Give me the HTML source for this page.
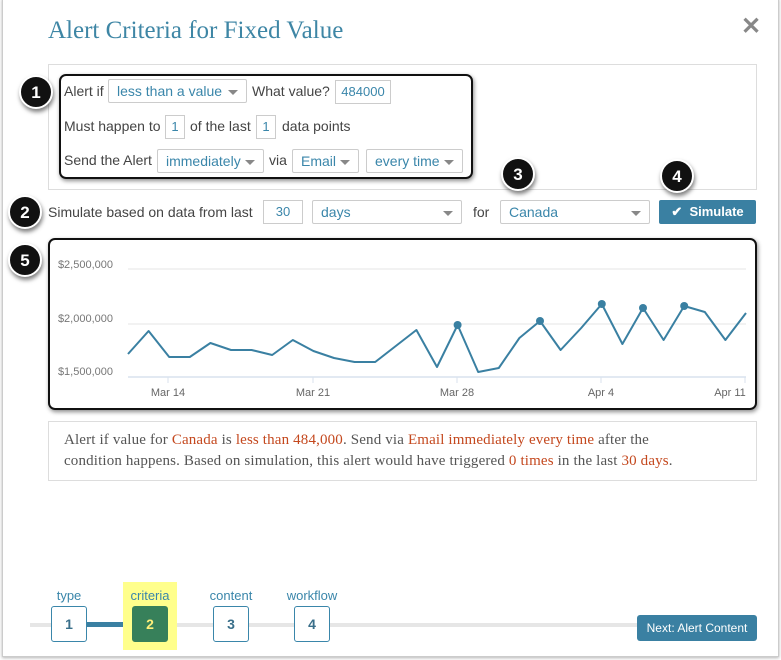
<!DOCTYPE html>
<html><head><meta charset="utf-8"><style>
*{box-sizing:border-box;margin:0;padding:0}
body{width:781px;height:660px;background:#fff;position:relative;overflow:hidden;font-family:"Liberation Sans",sans-serif;font-size:14px;color:#444}
.a{position:absolute}
.modal{left:2px;top:-2px;width:777px;height:659px;border:1px solid #ccc;box-shadow:0 1px 3px rgba(0,0,0,.3)}
.title{left:48px;top:17px;font-family:"Liberation Serif",serif;font-size:25px;color:#3e86a5}
.box{border:1px solid #ddd;background:#fff}
.ann{border:2px solid #111;border-radius:7px;box-shadow:1px 2px 4px rgba(0,0,0,.45)}
.sel{border:1px solid #ccc;border-radius:2px;color:#3a86aa;padding-left:8px;line-height:22px;height:24px;font-size:14px;background:#fff}
.sel:after{content:"";position:absolute;right:8px;top:10px;border-left:5px solid transparent;border-right:5px solid transparent;border-top:5px solid #888}
.inp{border:1px solid #ccc;color:#3a86aa;text-align:center;line-height:22px;height:24px;font-size:13px;background:#fff}
.t{font-size:14px;color:#444;line-height:16px}
.c{width:34px;height:34px;border-radius:50%;background:#111;color:#fff;font-weight:bold;font-size:17px;text-align:center;line-height:32px;border:2px solid #fff;box-shadow:1px 3px 4px rgba(0,0,0,.5)}
.step{width:36px;height:36px;border:1px solid #3a86aa;border-radius:3px;background:#fff;color:#3a6f8a;font-weight:bold;font-size:14px;text-align:center;line-height:34px}
.lab{font-size:13px;color:#3a86aa;text-align:center;width:80px}
.r{color:#c4481e}
</style></head><body>
<div class="a modal"></div>
<div class="a title">Alert Criteria for Fixed Value</div>
<div class="a" style="left:741px;top:12px;font-size:24px;color:#888;font-weight:bold">✕</div>

<div class="a box" style="left:48px;top:64px;width:709px;height:126px"></div>
<div class="a ann" style="left:59px;top:74px;width:414px;height:105px"></div>
<div class="a t" style="left:64px;top:83px">Alert if</div>
<div class="a sel" style="left:108px;top:79px;width:139px">less than a value</div>
<div class="a t" style="left:252px;top:83px">What value?</div>
<div class="a inp" style="left:335px;top:80px;width:56px">484000</div>
<div class="a t" style="left:64px;top:118px">Must happen to</div>
<div class="a inp" style="left:165px;top:115px;width:20px">1</div>
<div class="a t" style="left:190px;top:118px">of the last</div>
<div class="a inp" style="left:256px;top:115px;width:20px">1</div>
<div class="a t" style="left:282px;top:118px">data points</div>
<div class="a t" style="left:64px;top:152px">Send the Alert</div>
<div class="a sel" style="left:157px;top:149px;width:107px">immediately</div>
<div class="a t" style="left:269px;top:152px">via</div>
<div class="a sel" style="left:292px;top:149px;width:67px">Email</div>
<div class="a sel" style="left:366px;top:149px;width:97px">every time</div>

<div class="a t" style="left:48px;top:204px">Simulate based on data from last</div>
<div class="a inp" style="left:263px;top:200px;width:40px">30</div>
<div class="a sel" style="left:312px;top:200px;width:150px">days</div>
<div class="a t" style="left:473px;top:204px">for</div>
<div class="a sel" style="left:500px;top:200px;width:150px">Canada</div>
<div class="a" style="left:659px;top:200px;width:97px;height:24px;background:#3a80a2;border-radius:2px;color:#fff;font-weight:bold;font-size:13px;line-height:24px;text-align:center">✔&nbsp; Simulate</div>

<div class="a ann" style="left:48px;top:238px;width:709px;height:172px"></div>
<svg class="a" style="left:0;top:0" width="781" height="420">
<g font-family="Liberation Sans" font-size="11" fill="#777" text-anchor="end">
<text x="113" y="268">$2,500,000</text><text x="113" y="322">$2,000,000</text><text x="113" y="375">$1,500,000</text></g>
<g stroke="#eee" stroke-width="1.5"><line x1="128" y1="269" x2="746" y2="269"/><line x1="128" y1="324" x2="746" y2="324"/></g>
<line x1="128" y1="377" x2="746" y2="377" stroke="#d8e2ee" stroke-width="1.5"/>
<g stroke="#d8e2ee"><line x1="168" y1="377" x2="168" y2="383"/><line x1="313" y1="377" x2="313" y2="383"/><line x1="457" y1="377" x2="457" y2="383"/><line x1="601" y1="377" x2="601" y2="383"/><line x1="745" y1="377" x2="745" y2="383"/></g>
<g font-family="Liberation Sans" font-size="11" fill="#666" text-anchor="middle">
<text x="168" y="396">Mar 14</text><text x="313" y="396">Mar 21</text><text x="457" y="396">Mar 28</text><text x="601" y="396">Apr 4</text><text x="730" y="396">Apr 11</text></g>
<polyline fill="none" stroke="#3a80a2" stroke-width="2" stroke-linejoin="round" points="128,354 148.6,331 169.2,357 189.8,357 210.4,343 231,350 251.6,350 272.2,355 292.8,340 313.4,351 334,358 354.6,362 375.2,362 395.8,346 416.4,330 437,367 457.6,325 478.2,372 498.8,368 519.4,338 540,321 560.6,350 581.2,328 601.8,304 622.4,344 643,308 663.6,340 684.2,306 704.8,312 725.4,340 746,313"/>
<g fill="#3a80a2"><circle cx="457.6" cy="325" r="4"/><circle cx="540" cy="321" r="4"/><circle cx="601.8" cy="304" r="4"/><circle cx="643" cy="308" r="4"/><circle cx="684.2" cy="306" r="4"/></g>
</svg>

<div class="a c" style="left:19px;top:75px">1</div>
<div class="a c" style="left:8px;top:195px">2</div>
<div class="a c" style="left:501px;top:157px">3</div>
<div class="a c" style="left:660px;top:159px">4</div>
<div class="a c" style="left:8px;top:243px">5</div>

<div class="a box" style="left:48px;top:421px;width:709px;height:60px"></div>
<div class="a" style="left:64px;top:430px;width:660px;font-family:'Liberation Serif',serif;font-size:15px;line-height:21px;color:#555;letter-spacing:0.15px">Alert if value for <span class="r">Canada</span> is <span class="r">less than 484,000</span>. Send via <span class="r">Email immediately every time</span> after the<br>condition happens. Based on simulation, this alert would have triggered <span class="r">0 times</span> in the last <span class="r">30 days</span>.</div>

<div class="a" style="left:30px;top:623px;width:726px;height:4px;background:#e6e6e6"></div>
<div class="a" style="left:86px;top:622px;width:48px;height:5px;background:#3a80a2"></div>
<div class="a" style="left:123px;top:582px;width:54px;height:68px;background:#ffff8c"></div>
<div class="a lab" style="left:29px;top:588px">type</div>
<div class="a lab" style="left:110px;top:588px;color:#3a86aa">criteria</div>
<div class="a lab" style="left:191px;top:588px">content</div>
<div class="a lab" style="left:272px;top:588px">workflow</div>
<div class="a step" style="left:51px;top:606px">1</div>
<div class="a step" style="left:132px;top:606px;background:#37805a;border-color:#37805a;color:#ffef7a">2</div>
<div class="a step" style="left:213px;top:606px">3</div>
<div class="a step" style="left:294px;top:606px">4</div>
<div class="a" style="left:637px;top:615px;width:120px;height:26px;background:#3a80a2;border-radius:3px;color:#fff;font-size:12px;line-height:26px;text-align:center">Next: Alert Content</div>
</body></html>
